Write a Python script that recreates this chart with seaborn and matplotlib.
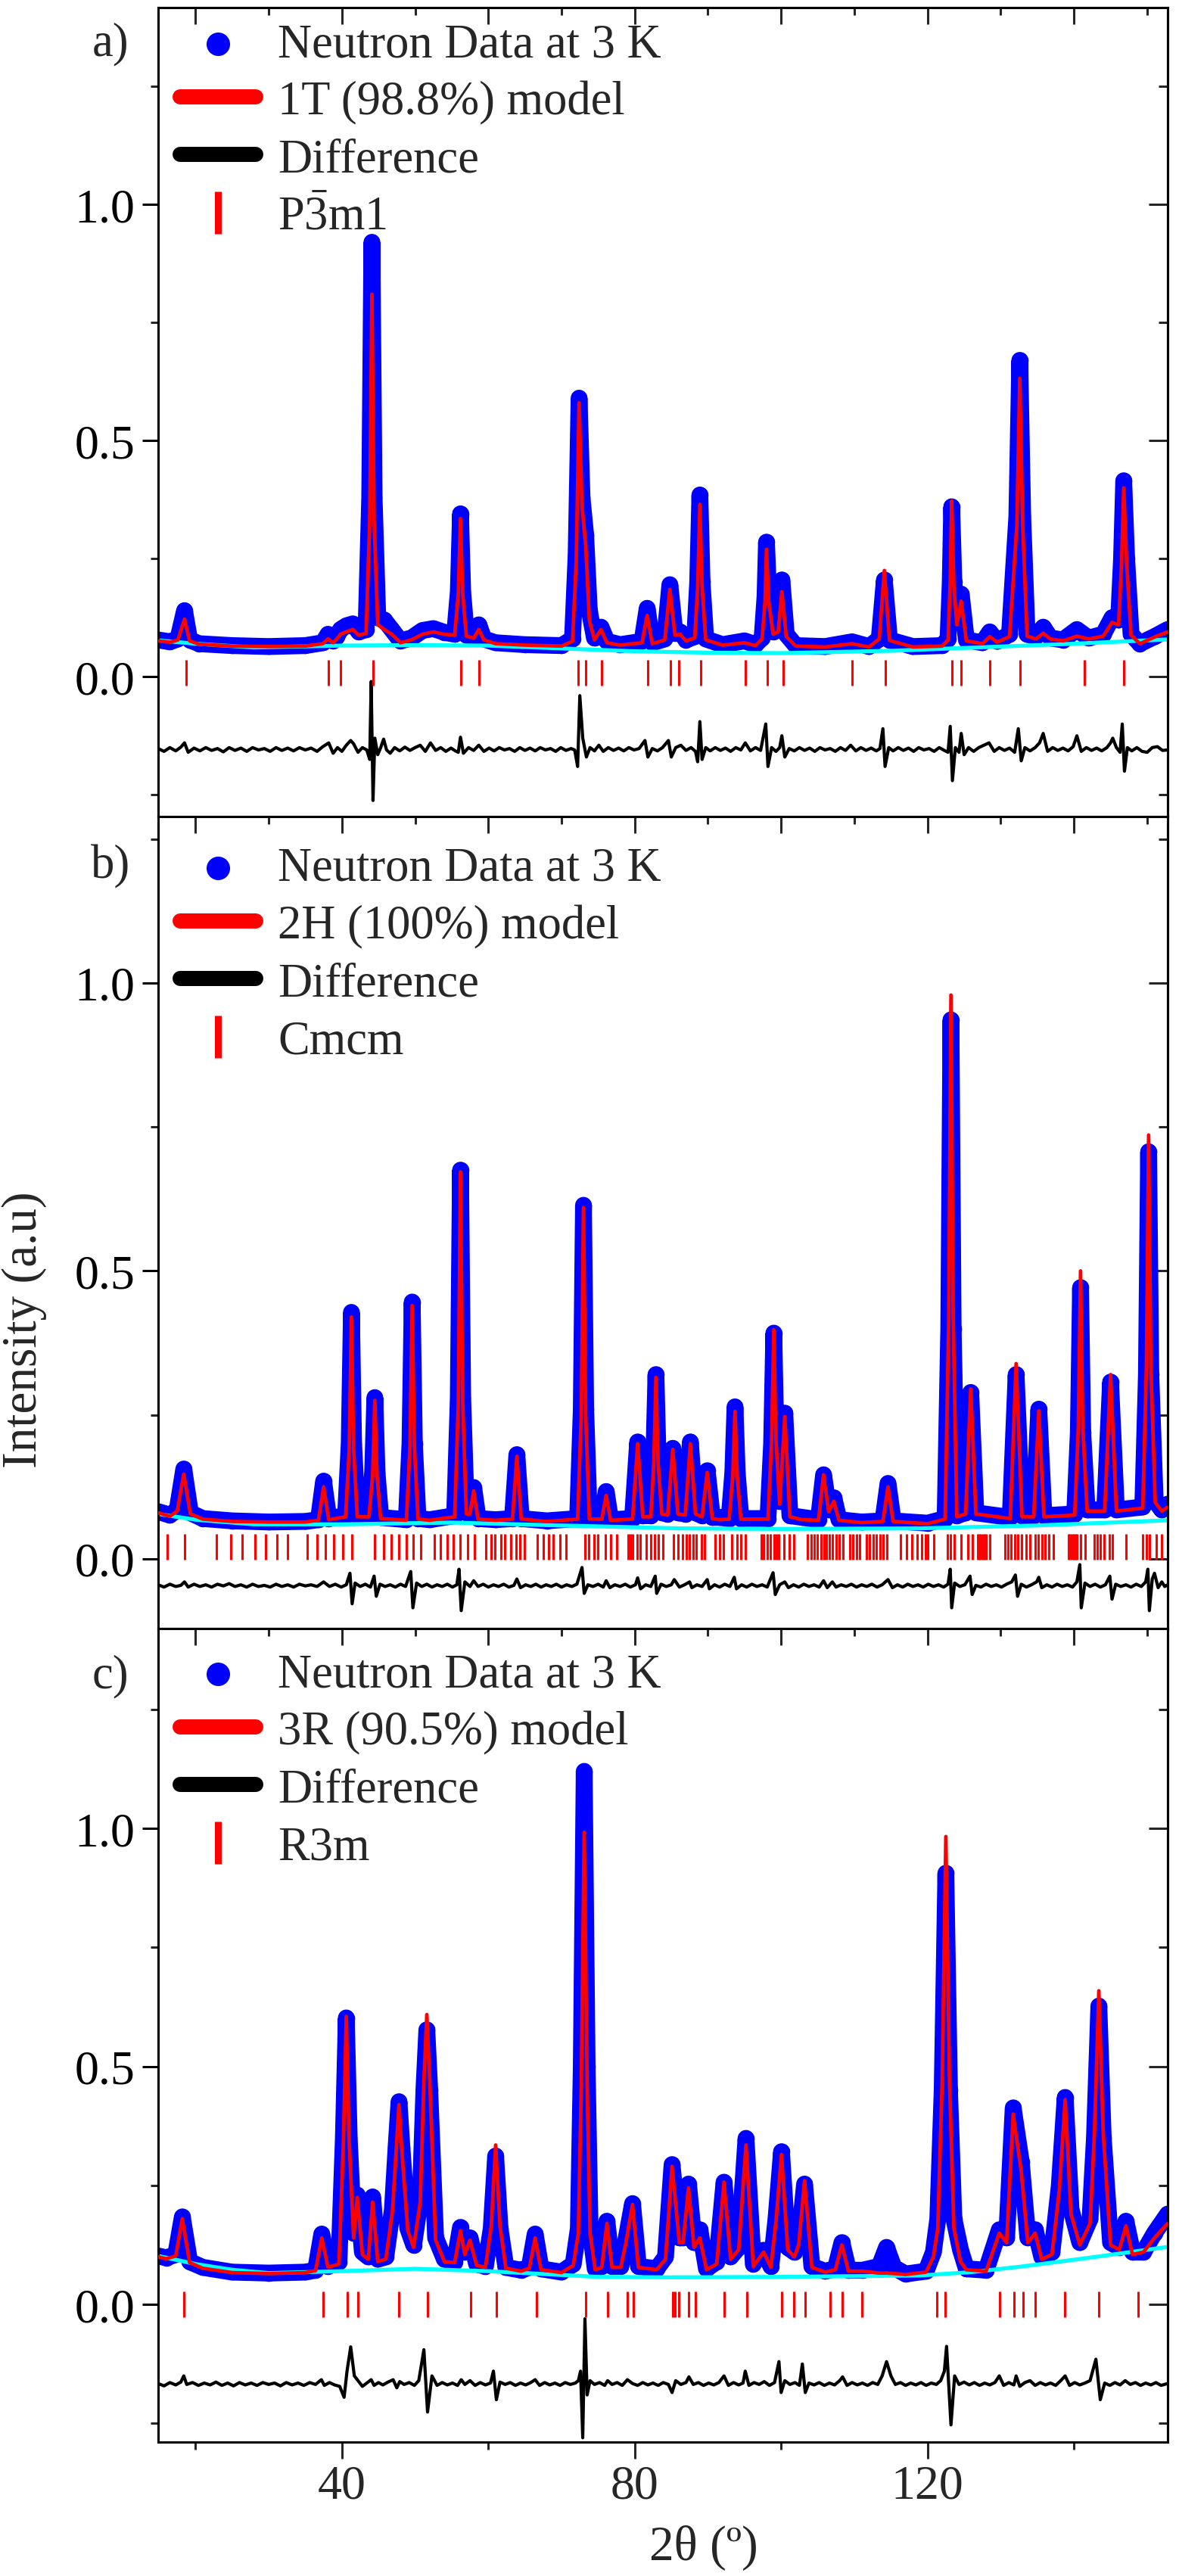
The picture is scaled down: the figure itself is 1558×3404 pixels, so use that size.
import numpy as np
import pandas as pd
import matplotlib
matplotlib.use("Agg")
import matplotlib.pyplot as plt
import seaborn as sns
from matplotlib.ticker import MultipleLocator, FixedLocator, FormatStrFormatter

# ---------------- panel a) 1T ----------------
tth_a = [14.9, 16.5, 17.6, 18.5, 19.2, 20.5, 25.0, 30.0, 35.0, 37.4,
         38.1, 38.8, 39.3, 39.8, 40.6, 41.5, 42.3, 43.3, 43.8, 44.1,
         44.4, 44.9, 45.8, 46.8, 48.0, 49.5, 51.0, 52.5, 54.0, 55.4,
         55.9, 56.2, 56.5, 57.0, 58.0, 58.7, 59.4, 61.0, 65.0, 70.0,
         71.5, 72.0, 72.4, 72.8, 73.3, 73.8, 74.5, 75.4, 76.2, 78.0,
         81.0, 81.7, 82.4, 84.1, 84.8, 85.5, 86.2, 87.0, 88.2, 88.6,
         88.9, 89.2, 89.7, 92.0, 95.0, 96.5, 97.4, 97.8, 98.0, 98.3,
         98.9, 99.6, 100.1, 100.7, 102.0, 106.0, 109.7, 112.0, 113.4, 114.1,
         114.8, 118.0, 122.0, 122.8, 123.1, 123.3, 123.6, 124.0, 124.6, 125.3,
         127.5, 128.5, 129.5, 131.2, 132.2, 132.6, 133.0, 133.6, 134.8, 135.8,
         136.8, 138.5, 140.4, 142.0, 144.0, 145.2, 146.1, 146.5, 146.8, 147.2,
         147.8, 149.0, 151.0, 152.8]
obs_a = [0.078, 0.074, 0.080, 0.140, 0.078, 0.070, 0.066, 0.064, 0.066, 0.072,
         0.090, 0.076, 0.085, 0.100, 0.108, 0.112, 0.095, 0.100, 0.380, 0.920,
         0.380, 0.125, 0.120, 0.100, 0.076, 0.082, 0.098, 0.102, 0.094, 0.090,
         0.180, 0.345, 0.180, 0.088, 0.085, 0.110, 0.080, 0.072, 0.068, 0.066,
         0.080, 0.260, 0.590, 0.380, 0.300, 0.140, 0.082, 0.105, 0.075, 0.068,
         0.075, 0.145, 0.072, 0.080, 0.195, 0.092, 0.095, 0.078, 0.085, 0.200,
         0.385, 0.200, 0.080, 0.068, 0.076, 0.068, 0.082, 0.170, 0.285, 0.170,
         0.095, 0.100, 0.205, 0.090, 0.066, 0.064, 0.074, 0.064, 0.080, 0.205,
         0.078, 0.064, 0.066, 0.080, 0.200, 0.360, 0.200, 0.120, 0.175, 0.078,
         0.072, 0.095, 0.075, 0.090, 0.340, 0.670, 0.340, 0.090, 0.085, 0.105,
         0.082, 0.078, 0.100, 0.082, 0.090, 0.125, 0.120, 0.250, 0.415, 0.250,
         0.090, 0.070, 0.085, 0.100]
calc_a = [0.076, 0.073, 0.078, 0.122, 0.076, 0.069, 0.065, 0.064, 0.065, 0.070,
          0.080, 0.072, 0.080, 0.090, 0.095, 0.100, 0.088, 0.092, 0.330, 0.810,
          0.330, 0.110, 0.100, 0.090, 0.072, 0.078, 0.090, 0.095, 0.090, 0.088,
          0.175, 0.335, 0.175, 0.086, 0.082, 0.100, 0.078, 0.070, 0.067, 0.065,
          0.075, 0.240, 0.580, 0.360, 0.280, 0.120, 0.078, 0.100, 0.072, 0.067,
          0.072, 0.130, 0.070, 0.078, 0.185, 0.088, 0.090, 0.076, 0.082, 0.190,
          0.365, 0.190, 0.078, 0.067, 0.072, 0.066, 0.080, 0.160, 0.270, 0.160,
          0.090, 0.095, 0.180, 0.085, 0.065, 0.063, 0.070, 0.063, 0.080, 0.225,
          0.077, 0.063, 0.065, 0.078, 0.200, 0.372, 0.190, 0.110, 0.160, 0.076,
          0.070, 0.085, 0.073, 0.085, 0.320, 0.632, 0.320, 0.086, 0.080, 0.092,
          0.080, 0.076, 0.086, 0.080, 0.086, 0.115, 0.110, 0.240, 0.400, 0.240,
          0.088, 0.070, 0.084, 0.095]
bg_a_x = [14.9, 20, 28, 40, 50, 60, 70, 80, 90, 100, 115, 130, 140, 152.8]
bg_a_y = [0.077, 0.070, 0.062, 0.066, 0.067, 0.066, 0.060, 0.054, 0.051, 0.050, 0.055, 0.064, 0.070, 0.079]
diff_a_x = [14.9, 15.7, 16.5, 17.3, 18.0, 18.5, 19.0, 19.8, 20.6, 21.4, 22.2, 23.0, 23.8, 24.6,
            25.4, 26.2, 27.0, 27.8, 28.6, 29.4, 30.2, 31.0, 31.8, 32.6, 33.4, 34.2, 35.0, 35.8,
            36.6, 37.4, 38.2, 38.8, 39.4, 40.0, 40.6, 41.2, 41.6, 42.2, 42.8, 43.4,
            43.8, 44.0, 44.25, 44.5, 44.9, 45.3, 45.7, 46.1, 46.6, 47.2, 47.9, 48.6, 49.3,
            50.0, 50.7, 51.4, 52.1, 52.8, 53.5, 54.2, 54.9, 55.5, 55.9, 56.2, 56.6,
            57.3, 58.0, 58.7, 59.4, 60.1, 60.8, 61.5, 62.2, 62.9, 63.6, 64.3, 65.0, 65.7,
            66.4, 67.1, 67.8, 68.5, 69.2, 69.9, 70.6, 71.3, 71.8,
            72.2, 72.5, 72.9, 73.4, 73.9, 74.5, 75.1, 75.7, 76.4, 77.1, 77.8, 78.5, 79.2,
            79.9, 80.6, 81.4, 81.8, 82.4, 83.1, 83.8, 84.6, 85.0, 85.6, 86.3, 87.0, 87.7,
            88.3, 88.6, 88.9, 89.2, 89.7, 90.3,
            91.0, 91.7, 92.4, 93.1, 93.8, 94.5, 95.1, 95.8, 96.5, 97.2, 97.9, 98.2, 98.7,
            99.3, 99.8, 100.1, 100.5, 101.1, 101.8, 102.5, 103.2, 103.9, 104.6, 105.3,
            106.0, 106.7, 107.4, 108.1, 108.8, 109.5, 110.2, 110.9, 111.6, 112.3, 113.0, 113.5,
            113.9, 114.2, 114.7, 115.3, 116.0, 116.7, 117.4, 118.1, 118.8, 119.5, 120.2,
            120.9, 121.6, 122.3, 122.8, 123.1, 123.4, 123.8, 124.3, 124.6, 125.0, 125.6,
            126.3, 127.0, 127.7, 128.4, 129.1, 129.8, 130.5, 131.2, 131.9, 132.4, 132.8,
            133.3, 134.0, 134.7, 135.3, 135.8,
            136.4, 137.1, 137.8, 138.5, 139.2, 139.9, 140.4, 141.0, 141.7, 142.4, 143.1,
            143.8, 144.5, 145.0, 145.3, 145.8, 146.3, 146.6, 146.9, 147.3, 147.9, 148.6,
            149.3, 150.0, 150.7, 151.4, 152.1, 152.8]
diff_a_y = [-0.152, -0.158, -0.150, -0.157, -0.149, -0.140, -0.160, -0.151, -0.157, -0.150, -0.156, -0.152, -0.159, -0.150,
            -0.156, -0.151, -0.158, -0.150, -0.155, -0.152, -0.158, -0.150, -0.156, -0.151, -0.157, -0.150, -0.155, -0.151,
            -0.158, -0.148, -0.140, -0.162, -0.150, -0.158, -0.145, -0.135, -0.142, -0.160, -0.150, -0.155,
            -0.175, -0.010, -0.262, -0.130, -0.165, -0.150, -0.132, -0.155, -0.162, -0.150, -0.157, -0.149, -0.156,
            -0.150, -0.145, -0.158, -0.140, -0.156, -0.150, -0.158, -0.151, -0.157, -0.160, -0.128, -0.162,
            -0.150, -0.156, -0.145, -0.158, -0.151, -0.157, -0.150, -0.155, -0.152, -0.158, -0.150, -0.156, -0.151,
            -0.157, -0.150, -0.155, -0.152, -0.158, -0.150, -0.156, -0.152, -0.155,
            -0.190, -0.040, -0.130, -0.170, -0.150, -0.157, -0.145, -0.158, -0.150, -0.156, -0.151, -0.157, -0.150,
            -0.155, -0.152, -0.135, -0.170, -0.152, -0.157, -0.150, -0.135, -0.170, -0.150, -0.145, -0.156, -0.150,
            -0.158, -0.180, -0.095, -0.175, -0.150, -0.157,
            -0.150, -0.156, -0.151, -0.158, -0.150, -0.155, -0.140, -0.157, -0.150, -0.156, -0.100, -0.190, -0.150,
            -0.158, -0.150, -0.125, -0.170, -0.152, -0.157, -0.150, -0.156, -0.151, -0.158, -0.150,
            -0.155, -0.152, -0.158, -0.150, -0.156, -0.145, -0.157, -0.150, -0.156, -0.151, -0.157, -0.152,
            -0.110, -0.190, -0.150, -0.157, -0.150, -0.156, -0.151, -0.158, -0.150, -0.155, -0.152,
            -0.158, -0.150, -0.156, -0.160, -0.105, -0.220, -0.150, -0.160, -0.120, -0.165, -0.150,
            -0.158, -0.150, -0.145, -0.140, -0.158, -0.150, -0.156, -0.151, -0.160, -0.110, -0.178,
            -0.150, -0.157, -0.150, -0.140, -0.120,
            -0.158, -0.150, -0.156, -0.151, -0.157, -0.148, -0.125, -0.158, -0.150, -0.156, -0.151,
            -0.157, -0.150, -0.140, -0.130, -0.150, -0.160, -0.100, -0.200, -0.150, -0.157, -0.150,
            -0.158, -0.160, -0.150, -0.148, -0.156, -0.155]
refl_a = [18.75, 38.2, 39.8, 44.3, 56.3, 58.7, 72.3, 73.3, 75.5, 81.8, 84.9, 86.0,
          89.0, 95.1, 98.1, 100.3, 109.7, 114.2, 123.3, 124.6, 128.5, 132.6, 141.4, 146.8]

# ---------------- panel b) 2H ----------------
tth_b = [14.9, 16.5, 17.5, 18.4, 19.3, 21.0, 25.0, 30.0, 35.0, 36.8,
         37.5, 38.2, 40.5, 41.0, 41.3, 41.6, 42.1, 43.7, 44.2, 44.5,
         44.8, 45.3, 48.8, 49.3, 49.6, 49.9, 50.4, 52.0, 55.4, 55.9,
         56.2, 56.5, 57.0, 57.5, 58.0, 58.6, 61.0, 63.3, 63.9, 64.5,
         68.0, 72.2, 72.7, 73.0, 73.3, 73.8, 75.5, 76.1, 76.7, 79.7,
         80.4, 81.1, 82.2, 82.6, 82.9, 83.2, 83.7, 84.5, 85.2, 85.9,
         86.9, 87.6, 88.3, 89.2, 89.9, 90.6, 91.6, 92.9, 93.4, 93.7,
         94.0, 94.5, 98.2, 98.7, 99.0, 99.3, 99.8, 100.5, 101.2, 102.9,
         105.1, 105.8, 106.5, 107.2, 107.9, 111.0, 113.9, 114.6, 115.3, 120.0,
         122.4, 122.9, 123.2, 123.5, 124.0, 125.2, 125.9, 126.6, 131.3, 132.1,
         132.9, 134.5, 135.2, 135.9, 140.1, 140.6, 140.9, 141.2, 141.8, 144.2,
         145.0, 145.8, 149.4, 149.9, 150.2, 150.5, 151.1, 152.0, 152.8]
obs_b = [0.082, 0.076, 0.085, 0.156, 0.080, 0.070, 0.066, 0.064, 0.065, 0.068,
         0.135, 0.070, 0.075, 0.200, 0.428, 0.200, 0.075, 0.075, 0.150, 0.280,
         0.150, 0.072, 0.068, 0.200, 0.446, 0.200, 0.070, 0.068, 0.075, 0.280,
         0.675, 0.280, 0.080, 0.080, 0.124, 0.070, 0.068, 0.070, 0.181, 0.070,
         0.066, 0.070, 0.260, 0.614, 0.260, 0.070, 0.070, 0.117, 0.068, 0.070,
         0.203, 0.075, 0.075, 0.170, 0.320, 0.170, 0.080, 0.078, 0.192, 0.080,
         0.078, 0.203, 0.080, 0.075, 0.153, 0.072, 0.072, 0.070, 0.150, 0.264,
         0.150, 0.070, 0.070, 0.200, 0.392, 0.200, 0.100, 0.253, 0.075, 0.072,
         0.068, 0.146, 0.085, 0.106, 0.068, 0.064, 0.066, 0.131, 0.066, 0.062,
         0.070, 0.400, 0.936, 0.400, 0.075, 0.080, 0.289, 0.080, 0.072, 0.320,
         0.075, 0.075, 0.260, 0.075, 0.078, 0.220, 0.471, 0.220, 0.085, 0.085,
         0.307, 0.085, 0.090, 0.320, 0.707, 0.320, 0.100, 0.085, 0.095]
calc_b = [0.080, 0.074, 0.083, 0.147, 0.078, 0.069, 0.065, 0.064, 0.064, 0.067,
          0.125, 0.068, 0.073, 0.190, 0.420, 0.190, 0.073, 0.073, 0.145, 0.275,
          0.145, 0.070, 0.067, 0.195, 0.440, 0.195, 0.069, 0.067, 0.073, 0.270,
          0.672, 0.270, 0.078, 0.078, 0.118, 0.069, 0.067, 0.069, 0.178, 0.069,
          0.065, 0.069, 0.250, 0.610, 0.250, 0.069, 0.069, 0.110, 0.067, 0.069,
          0.200, 0.073, 0.073, 0.165, 0.315, 0.165, 0.078, 0.076, 0.190, 0.078,
          0.076, 0.200, 0.078, 0.073, 0.150, 0.070, 0.068, 0.069, 0.145, 0.256,
          0.145, 0.069, 0.069, 0.205, 0.398, 0.205, 0.095, 0.247, 0.073, 0.068,
          0.067, 0.146, 0.082, 0.100, 0.067, 0.063, 0.065, 0.125, 0.065, 0.061,
          0.069, 0.420, 0.979, 0.420, 0.073, 0.078, 0.295, 0.078, 0.070, 0.339,
          0.073, 0.073, 0.257, 0.073, 0.076, 0.230, 0.500, 0.230, 0.083, 0.083,
          0.320, 0.083, 0.088, 0.335, 0.736, 0.335, 0.098, 0.083, 0.090]
bg_b_x = [14.9, 20, 28, 40, 55, 70, 86, 100, 119, 135, 152.8]
bg_b_y = [0.078, 0.068, 0.060, 0.060, 0.063, 0.058, 0.053, 0.052, 0.053, 0.058, 0.067]
diff_b_x = [14.9, 15.7, 16.5, 17.3, 18.0, 18.5, 19.0, 19.8, 20.6, 21.4, 22.2, 23.0, 23.8, 24.6,
            25.4, 26.2, 27.0, 27.8, 28.6, 29.4, 30.2, 31.0, 31.8, 32.6, 33.4, 34.2, 35.0, 35.8,
            36.6, 37.5, 38.3, 39.1, 39.9, 40.6,
            41.1, 41.4, 41.8, 42.5, 43.2, 43.9, 44.4, 44.7, 45.2, 45.9, 46.6, 47.3, 48.0,
            48.7, 49.4, 49.7, 50.2, 50.9, 51.6, 52.3, 53.0, 53.7, 54.4, 55.1, 55.7, 56.0,
            56.3, 56.8, 57.5, 58.0, 58.6, 59.3, 60.0, 60.7, 61.4, 62.1, 62.8, 63.5, 63.9,
            64.4, 65.1, 65.8, 66.5, 67.2, 67.9, 68.6, 69.3, 70.0, 70.7, 71.4, 72.1, 72.8,
            73.1, 73.6, 74.3, 75.0, 75.7, 76.1, 76.6, 77.3, 78.0, 78.7, 79.4, 80.1, 80.4,
            80.8, 81.5, 82.2, 82.8, 83.0, 83.6, 84.3, 85.0, 85.4, 86.1, 86.8, 87.5, 87.8,
            88.5, 89.2, 89.9, 90.2, 90.9, 91.6, 92.3, 93.0, 93.6, 93.9, 94.6, 95.3, 96.0,
            96.7, 97.4, 98.1, 98.9, 99.2,
            99.8, 100.5, 101.0, 101.7, 102.4, 103.1, 103.8, 104.5, 105.2, 105.8, 106.3,
            107.0, 107.5, 108.2, 108.9, 109.6, 110.3, 111.0, 111.7, 112.4, 113.1, 113.8,
            114.6, 115.2, 115.9, 116.6, 117.3, 118.0, 118.7, 119.4, 120.1, 120.8, 121.5,
            122.2, 122.8, 123.1, 123.3, 123.7, 124.4, 125.1, 125.8, 126.1,
            126.6, 127.3, 128.0, 128.7, 129.4, 130.1, 130.8, 131.5, 132.0, 132.3, 132.8,
            133.5, 134.2, 134.9, 135.2, 135.6, 136.3, 137.0, 137.7, 138.4, 139.1, 139.8,
            140.4, 140.8, 141.0, 141.5, 142.2, 142.9, 143.6, 144.3, 144.9, 145.2, 145.7,
            146.4, 147.1, 147.8, 148.5, 149.2, 149.8, 150.1, 150.3, 150.7, 151.0, 151.5,
            152.0, 152.4, 152.8]
diff_b_y = [-0.045, -0.049, -0.044, -0.048, -0.046, -0.040, -0.049, -0.044, -0.048, -0.045, -0.049, -0.044, -0.047, -0.043,
            -0.048, -0.045, -0.049, -0.044, -0.048, -0.046, -0.049, -0.044, -0.048, -0.045, -0.049, -0.044, -0.047, -0.045,
            -0.048, -0.040, -0.048, -0.044, -0.049, -0.045,
            -0.025, -0.078, -0.042, -0.048, -0.044, -0.049, -0.030, -0.065, -0.044, -0.048, -0.045, -0.049, -0.044,
            -0.048, -0.022, -0.085, -0.042, -0.048, -0.044, -0.049, -0.045, -0.048, -0.044, -0.049, -0.045, -0.018,
            -0.090, -0.040, -0.048, -0.038, -0.048, -0.044, -0.049, -0.045, -0.048, -0.044, -0.049, -0.046, -0.035,
            -0.050, -0.045, -0.048, -0.044, -0.049, -0.045, -0.048, -0.044, -0.049, -0.045, -0.048, -0.044, -0.015,
            -0.060, -0.045, -0.048, -0.044, -0.049, -0.038, -0.050, -0.045, -0.048, -0.044, -0.049, -0.045, -0.033,
            -0.052, -0.045, -0.048, -0.030, -0.060, -0.044, -0.048, -0.045, -0.036, -0.049, -0.045, -0.040, -0.050,
            -0.045, -0.048, -0.036, -0.052, -0.045, -0.049, -0.044, -0.048, -0.032, -0.052, -0.045, -0.049, -0.044,
            -0.048, -0.045, -0.049, -0.024, -0.062,
            -0.045, -0.040, -0.050, -0.045, -0.049, -0.044, -0.048, -0.045, -0.049, -0.038, -0.050,
            -0.040, -0.049, -0.045, -0.048, -0.044, -0.049, -0.045, -0.048, -0.044, -0.049, -0.045,
            -0.036, -0.050, -0.045, -0.049, -0.044, -0.048, -0.045, -0.049, -0.044, -0.048, -0.045,
            -0.049, -0.044, -0.018, -0.085, -0.042, -0.048, -0.045, -0.030, -0.062,
            -0.046, -0.049, -0.044, -0.048, -0.045, -0.049, -0.044, -0.040, -0.028, -0.065, -0.044,
            -0.049, -0.045, -0.040, -0.032, -0.050, -0.045, -0.049, -0.044, -0.048, -0.045, -0.049,
            -0.040, -0.010, -0.085, -0.042, -0.048, -0.044, -0.049, -0.045, -0.030, -0.070, -0.044,
            -0.048, -0.045, -0.049, -0.044, -0.048, -0.040, -0.018, -0.090, -0.035, -0.025, -0.050,
            -0.040, -0.048, -0.045]
refl_b = [16.16, 18.56, 22.85, 24.79, 26.4, 28.1, 29.6, 31.1, 32.6, 35.27, 36.56, 37.72,
          38.87, 40.16, 41.32, 44.5, 45.7, 46.72, 47.78, 48.8, 49.72, 50.74, 52.63, 53.41,
          54.34, 55.17, 56.18, 57.2, 58.12, 59.65, 60.34, 60.94, 61.72, 62.28, 63.11, 63.8,
          64.36, 64.96, 66.71, 67.5, 68.19, 68.88, 69.8, 70.63, 73.17, 73.73, 74.42, 74.97,
          76.03, 76.73, 77.56, 79.13, 79.4, 79.73, 80.33, 80.79, 81.58, 82.18, 82.73, 83.19,
          83.88, 85.27, 85.87, 86.56, 87.02, 87.48, 87.94, 88.41, 89.1, 89.56, 90.94, 91.63,
          92.09, 93.24, 93.93, 94.53, 95.08, 97.29, 97.61, 98.07, 98.53, 99.0, 99.32, 99.69,
          100.38, 101.07, 101.76, 103.6, 104.06, 104.52, 104.98, 105.44, 105.9, 106.13, 106.59,
          107.05, 107.51, 107.97, 108.43, 109.35, 109.81, 110.27, 110.73, 111.66, 112.12,
          112.58, 113.04, 113.5, 113.96, 114.42, 116.26, 117.18, 117.87, 118.56, 119.25,
          119.71, 120.03, 120.86, 122.7, 123.17, 123.63, 124.55, 125.47, 126.16, 126.85,
          127.08, 127.31, 127.54, 127.77, 128.0, 128.46, 130.53, 130.99, 131.45, 131.91,
          132.37, 132.83, 133.52, 133.98, 134.68, 135.14, 135.6, 136.06, 136.52, 137.21,
          139.28, 139.51, 139.74, 139.97, 140.2, 140.43, 140.89, 141.58, 142.73, 143.19,
          143.65, 144.12, 144.81, 145.27, 147.11, 149.41, 149.87, 150.33, 151.25, 151.94]

# ---------------- panel c) 3R ----------------
tth_c = [14.9, 16.0, 17.3, 18.2, 19.2, 21.0, 25.0, 30.0, 35.0, 36.4,
         37.25, 38.1, 39.6, 40.2, 40.6, 41.0, 41.6, 42.1, 42.8, 43.6,
         44.2, 44.9, 46.0, 46.9, 47.4, 47.8, 48.2, 49.0, 49.8, 50.7,
         51.2, 51.6, 52.0, 52.8, 54.0, 55.4, 56.2, 56.8, 57.5, 58.4,
         59.6, 60.4, 61.0, 61.6, 62.4, 64.5, 65.6, 66.4, 67.2, 70.0,
         71.6, 72.3, 72.7, 73.1, 73.5, 73.9, 74.6, 75.5, 76.2, 76.9,
         78.1, 78.8, 79.7, 80.5, 83.0, 84.2, 85.1, 86.1, 86.6, 87.35,
         88.1, 88.9, 89.8, 91.2, 92.2, 93.1, 94.2, 95.2, 96.2, 97.6,
         98.6, 99.3, 100.05, 100.9, 101.8, 102.4, 103.2, 104.2, 106.0, 107.4,
         108.3, 109.2, 111.1, 113.4, 114.4, 115.4, 117.0, 119.8, 120.8, 121.4,
         122.0, 122.5, 123.0, 123.6, 124.5, 125.3, 128.0, 129.8, 130.8, 131.7,
         132.8, 133.7, 134.7, 135.6, 137.0, 138.0, 138.8, 139.6, 140.8, 142.2,
         142.8, 143.4, 144.0, 145.0, 146.2, 147.1, 148.0, 149.5, 151.0, 152.8]
obs_c = [0.102, 0.098, 0.105, 0.184, 0.090, 0.078, 0.068, 0.066, 0.068, 0.072,
         0.148, 0.080, 0.090, 0.350, 0.602, 0.350, 0.150, 0.230, 0.110, 0.100,
         0.226, 0.095, 0.100, 0.200, 0.330, 0.426, 0.330, 0.160, 0.125, 0.220,
         0.450, 0.577, 0.450, 0.140, 0.095, 0.090, 0.162, 0.110, 0.140, 0.085,
         0.080, 0.160, 0.312, 0.160, 0.078, 0.072, 0.078, 0.148, 0.075, 0.068,
         0.085, 0.160, 0.500, 1.120, 0.500, 0.160, 0.075, 0.080, 0.175, 0.080,
         0.080, 0.136, 0.212, 0.080, 0.075, 0.100, 0.294, 0.140, 0.140, 0.253,
         0.130, 0.157, 0.075, 0.090, 0.257, 0.100, 0.120, 0.349, 0.085, 0.114,
         0.080, 0.180, 0.321, 0.120, 0.110, 0.130, 0.253, 0.080, 0.070, 0.075,
         0.130, 0.072, 0.072, 0.080, 0.120, 0.078, 0.064, 0.070, 0.110, 0.180,
         0.450, 0.906, 0.450, 0.180, 0.115, 0.075, 0.072, 0.157, 0.140, 0.413,
         0.300, 0.140, 0.157, 0.100, 0.110, 0.250, 0.435, 0.200, 0.130, 0.180,
         0.350, 0.627, 0.350, 0.130, 0.120, 0.175, 0.110, 0.110, 0.150, 0.190]
calc_c = [0.100, 0.096, 0.102, 0.180, 0.088, 0.076, 0.067, 0.065, 0.067, 0.071,
          0.140, 0.078, 0.085, 0.340, 0.605, 0.340, 0.140, 0.225, 0.105, 0.095,
          0.215, 0.090, 0.095, 0.195, 0.320, 0.420, 0.320, 0.155, 0.120, 0.215,
          0.470, 0.609, 0.470, 0.135, 0.090, 0.088, 0.155, 0.105, 0.135, 0.082,
          0.078, 0.165, 0.335, 0.165, 0.076, 0.070, 0.076, 0.140, 0.073, 0.067,
          0.082, 0.150, 0.460, 0.992, 0.460, 0.150, 0.073, 0.078, 0.170, 0.078,
          0.078, 0.130, 0.210, 0.078, 0.073, 0.095, 0.290, 0.130, 0.130, 0.245,
          0.120, 0.140, 0.073, 0.085, 0.257, 0.095, 0.115, 0.335, 0.080, 0.110,
          0.078, 0.175, 0.315, 0.115, 0.100, 0.125, 0.260, 0.078, 0.068, 0.073,
          0.125, 0.070, 0.070, 0.066, 0.066, 0.065, 0.063, 0.068, 0.100, 0.160,
          0.470, 0.983, 0.470, 0.160, 0.090, 0.073, 0.070, 0.150, 0.130, 0.400,
          0.280, 0.130, 0.150, 0.095, 0.105, 0.240, 0.430, 0.190, 0.125, 0.170,
          0.360, 0.659, 0.360, 0.125, 0.115, 0.165, 0.105, 0.110, 0.140, 0.170]
bg_c_x = [14.9, 20, 25, 30, 40, 50, 60, 75, 85, 100, 119, 126, 133, 142, 152.8]
bg_c_y = [0.102, 0.085, 0.073, 0.066, 0.070, 0.075, 0.070, 0.058, 0.057, 0.058, 0.061, 0.068, 0.080, 0.098, 0.121]
diff_c_x = [14.9, 15.7, 16.5, 17.3, 18.0, 18.4, 18.8, 19.6, 20.4, 21.2, 22.0, 22.8, 23.6, 24.4,
            25.2, 26.0, 26.8, 27.6, 28.4, 29.2, 30.0, 30.8, 31.6, 32.4, 33.2, 34.0, 34.8, 35.6,
            36.4, 37.2, 37.6, 38.3, 39.0, 39.7,
            40.3, 40.7, 41.2, 41.7, 42.2, 42.8, 43.4, 44.0, 44.4, 45.0, 45.6, 46.3, 47.0,
            47.5, 47.9, 48.5, 49.2, 49.9, 50.5, 51.2, 51.7, 52.3, 53.0, 53.7, 54.4, 55.1,
            55.8, 56.3, 56.8, 57.5, 58.2, 58.9, 59.6, 60.3, 60.7, 61.1, 61.6, 62.3, 63.0,
            63.7, 64.4, 65.1, 65.8, 66.4,
            67.0, 67.7, 68.4, 69.1, 69.8, 70.5, 71.2, 71.9, 72.3, 72.6, 72.9, 73.2, 73.5,
            73.9, 74.5, 75.2, 75.9, 76.3, 76.9, 77.6, 78.3, 79.0, 79.7, 80.4, 81.1, 81.8,
            82.5, 83.2, 83.9, 84.6, 85.1, 85.6, 86.3, 87.0, 87.4, 88.0, 88.7, 89.4, 90.1,
            90.8, 91.5, 92.2, 92.8, 93.5, 94.2, 94.8, 95.1,
            95.6, 96.3, 97.0, 97.7, 98.4, 99.1, 99.7, 100.0, 100.5, 101.2, 101.9, 102.5,
            102.9, 103.3, 103.8, 104.5, 105.2, 105.9, 106.6, 107.3, 108.0, 108.4, 109.0,
            109.7, 110.4, 111.1, 111.8, 112.5, 113.2, 113.8, 114.4, 115.0, 115.6, 116.3,
            117.0, 117.7, 118.4, 119.1, 119.8, 120.5, 121.2, 121.8,
            122.3, 122.6, 123.2, 123.7, 124.3, 125.0, 125.7, 126.4, 127.1, 127.8, 128.5,
            129.2, 129.8, 130.4, 131.1, 131.8, 132.1, 132.6, 133.3, 134.0, 134.7, 135.4,
            136.1, 136.8, 137.5, 138.2, 138.8, 139.4, 140.1, 140.8, 141.5, 142.2, 143.0,
            143.6, 144.2, 144.9, 145.6, 146.3, 147.0, 147.7, 148.4, 149.1, 149.8, 150.5,
            151.2, 151.9, 152.8]
diff_c_y = [-0.166, -0.171, -0.164, -0.169, -0.163, -0.150, -0.168, -0.164, -0.170, -0.165, -0.169, -0.163, -0.170, -0.165,
            -0.171, -0.164, -0.169, -0.165, -0.170, -0.164, -0.168, -0.165, -0.171, -0.164, -0.169, -0.165, -0.170, -0.164,
            -0.168, -0.158, -0.170, -0.164, -0.169, -0.172,
            -0.195, -0.140, -0.089, -0.150, -0.160, -0.172, -0.165, -0.158, -0.170, -0.164, -0.169, -0.163, -0.158,
            -0.175, -0.162, -0.168, -0.164, -0.170, -0.160, -0.095, -0.226, -0.150, -0.170, -0.164, -0.169, -0.165,
            -0.170, -0.158, -0.168, -0.160, -0.170, -0.164, -0.169, -0.165, -0.140, -0.200, -0.163, -0.168, -0.164,
            -0.170, -0.165, -0.169, -0.164, -0.158,
            -0.170, -0.164, -0.169, -0.165, -0.170, -0.164, -0.168, -0.165, -0.160, -0.140, -0.280, -0.030, -0.190,
            -0.160, -0.168, -0.164, -0.170, -0.160, -0.168, -0.164, -0.170, -0.158, -0.166, -0.170, -0.164, -0.169,
            -0.165, -0.170, -0.164, -0.168, -0.185, -0.160, -0.168, -0.164, -0.152, -0.168, -0.164, -0.170, -0.165,
            -0.169, -0.164, -0.150, -0.170, -0.164, -0.169, -0.165, -0.140,
            -0.170, -0.164, -0.168, -0.162, -0.170, -0.164, -0.120, -0.185, -0.160, -0.168, -0.164, -0.170,
            -0.125, -0.185, -0.165, -0.169, -0.164, -0.170, -0.165, -0.169, -0.160, -0.152, -0.170,
            -0.164, -0.169, -0.165, -0.170, -0.164, -0.168, -0.150, -0.120, -0.150, -0.168, -0.164,
            -0.170, -0.165, -0.169, -0.164, -0.170, -0.165, -0.168, -0.160,
            -0.140, -0.088, -0.253, -0.150, -0.168, -0.163, -0.169, -0.164, -0.170, -0.165, -0.169,
            -0.164, -0.150, -0.170, -0.164, -0.169, -0.150, -0.172, -0.164, -0.160, -0.170, -0.164,
            -0.169, -0.165, -0.170, -0.160, -0.150, -0.170, -0.164, -0.169, -0.165, -0.160, -0.115,
            -0.200, -0.165, -0.170, -0.164, -0.169, -0.160, -0.168, -0.164, -0.170, -0.165, -0.169,
            -0.164, -0.170, -0.166]
refl_c = [18.42, 37.39, 40.72, 42.24, 47.78, 51.66, 57.57, 61.13, 66.57, 73.27, 76.27, 78.95,
          79.87, 85.18, 85.5, 85.97, 87.35, 88.27, 92.23, 95.31, 100.05, 101.76, 103.28,
          106.68, 108.34, 111.06, 121.32, 122.38, 129.84, 131.77, 133.06, 134.68, 138.73,
          143.42, 148.81]

tags = ["a)", "b)", "c)"]
model_labels = ["1T (98.8%) model", "2H (100%) model", "3R (90.5%) model"]
phase_labels = [r"P$\mathrm{\bar{3}}$m1", "Cmcm", "R3m"]

print("drawing")
sns.set_theme(style="ticks")
plt.rcParams["font.family"] = ["Liberation Serif", "DejaVu Serif"]
plt.rcParams["mathtext.fontset"] = "custom"
plt.rcParams["mathtext.rm"] = "Liberation Serif"
plt.rcParams["mathtext.it"] = "Liberation Serif:italic"

FS = 45      # legend / panel tags
TFS = 46     # tick labels
fig = plt.figure(figsize=(15.58, 34.05), dpi=100)
left, width = 209 / 1558, 1334 / 1558
boxes = [(1080, 1069), (2153, 1073), (3228, 1075)]   # bottom px, height px
ylims = [(-0.296, 1.417), (-0.121, 1.289), (-0.289, 1.42)]
refl_ys = [0.008, 0.021, 0.0]
leg_top = [20, 40, 32]     # px below the top of each panel
row1 = [47, 65, 62]        # px to the first legend row

panels = [(tth_a, obs_a, calc_a, bg_a_x, bg_a_y, diff_a_x, diff_a_y, refl_a),
          (tth_b, obs_b, calc_b, bg_b_x, bg_b_y, diff_b_x, diff_b_y, refl_b),
          (tth_c, obs_c, calc_c, bg_c_x, bg_c_y, diff_c_x, diff_c_y, refl_c)]

for k, (tth, obs, calc, bgx, bgy, dx, dy, refl) in enumerate(panels):
    assert len(tth) == len(obs) == len(calc)
    assert len(dx) == len(dy), (k, len(dx), len(dy))
    assert len(bgx) == len(bgy)
    bpx, hpx = boxes[k]
    ax = fig.add_axes([left, 1 - bpx / 3405, width, hpx / 3405])
    df = pd.DataFrame({"tth": tth, "obs": obs, "calc": calc})

    # observed: thick blue band plus dots
    ax.plot(df["tth"], df["obs"], color="blue", lw=16, solid_joinstyle="round",
            solid_capstyle="round", zorder=1)
    sns.scatterplot(data=df, x="tth", y="obs", color="blue", s=240, linewidth=0,
                    label="Neutron Data at 3 K", ax=ax, zorder=1)
    sns.lineplot(x=bgx, y=bgy, color="cyan", lw=3.8, ax=ax, zorder=2)
    sns.lineplot(data=df, x="tth", y="calc", color="red", lw=3.4, sort=False,
                 estimator=None, label=model_labels[k], ax=ax, zorder=3)
    sns.lineplot(x=dx, y=dy, color="black", lw=3.0, sort=False, estimator=None,
                 label="Difference", ax=ax, zorder=3)
    ax.plot(refl, [refl_ys[k]] * len(refl), linestyle="none", marker="|", ms=24,
            mew=2.2, color="red", label=phase_labels[k], zorder=3)

    ax.set_xlim(14.9, 152.8)
    ax.set_ylim(*ylims[k])
    ax.set_xlabel("")
    ax.set_ylabel("")
    for sp in ax.spines.values():
        sp.set_visible(True)
        sp.set_linewidth(2.2)
        sp.set_color("black")

    # y ticks: left outward with labels, right inward
    ax.yaxis.set_major_locator(FixedLocator([0.0, 0.5, 1.0]))
    ax.yaxis.set_minor_locator(FixedLocator([-0.25, 0.25, 0.75, 1.25]))
    ax.yaxis.set_major_formatter(FormatStrFormatter("%.1f"))
    ax.tick_params(axis="y", which="major", direction="out", length=15, width=2.2,
                   labelsize=TFS, pad=7, left=True, right=False, colors="black")
    ax.tick_params(axis="y", which="minor", direction="out", length=7, width=2.2,
                   left=True, right=False)
    secy = ax.secondary_yaxis("right")
    secy.yaxis.set_major_locator(FixedLocator([0.0, 0.5, 1.0]))
    secy.yaxis.set_minor_locator(FixedLocator([-0.25, 0.25, 0.75, 1.25]))
    secy.tick_params(which="major", direction="in", length=18, width=2.2, labelright=False)
    secy.tick_params(which="minor", direction="in", length=9, width=2.2)
    secy.spines["right"].set_linewidth(2.2)

    # x ticks: top inward every 10, bottom only on last panel
    secx = ax.secondary_xaxis("top")
    secx.xaxis.set_major_locator(MultipleLocator(20))
    secx.xaxis.set_minor_locator(MultipleLocator(10))
    secx.tick_params(which="major", direction="in", length=16, width=2.2, labeltop=False)
    secx.tick_params(which="minor", direction="in", length=7, width=2.2)
    secx.spines["top"].set_linewidth(2.2)
    if k == 2:
        ax.xaxis.set_major_locator(FixedLocator([40, 80, 120]))
        ax.xaxis.set_minor_locator(FixedLocator([20, 60, 100, 140]))
        ax.tick_params(axis="x", which="major", direction="out", length=16, width=2.2,
                       labelsize=TFS, pad=5, bottom=True, top=False)
        ax.tick_params(axis="x", which="minor", direction="out", length=7, width=2.2,
                       bottom=True, top=False)
    else:
        ax.tick_params(axis="x", which="both", bottom=False, top=False, labelbottom=False)

    # legend in the order of the figure
    h, l = ax.get_legend_handles_labels()
    order = ["Neutron Data at 3 K", model_labels[k], "Difference", phase_labels[k]]
    hh = [h[l.index(o)] for o in order]
    leg = ax.legend(hh, order, loc="upper left",
                    bbox_to_anchor=(29 / 1334, 1 - leg_top[k] / hpx),
                    frameon=False, fontsize=FS, borderpad=0, borderaxespad=0,
                    labelspacing=0.29, handlelength=1.6, handletextpad=0.47,
                    numpoints=1, scatterpoints=1)
    lh = leg.legend_handles
    lh[0].set_sizes([500])
    for j in (1, 2):
        lh[j].set_linewidth(14.4)
        lh[j].set_solid_capstyle("round")
    lh[3].set_markersize(40)
    lh[3].set_markeredgewidth(6.5)

    ax.text(-63 / 1334, 1 - row1[k] / hpx, tags[k], transform=ax.transAxes,
            ha="center", va="center", fontsize=FS)

fig.text(32 / 1558, 1 - 1757 / 3405, "Intensity (a.u)", rotation=90,
         ha="center", va="center", fontsize=47)
fig.text(930 / 1558, 1 - 3367 / 3405, "2θ (º)", ha="center", va="center", fontsize=47)

fig.savefig("out.png", dpi=100, facecolor="white")
print("done")
